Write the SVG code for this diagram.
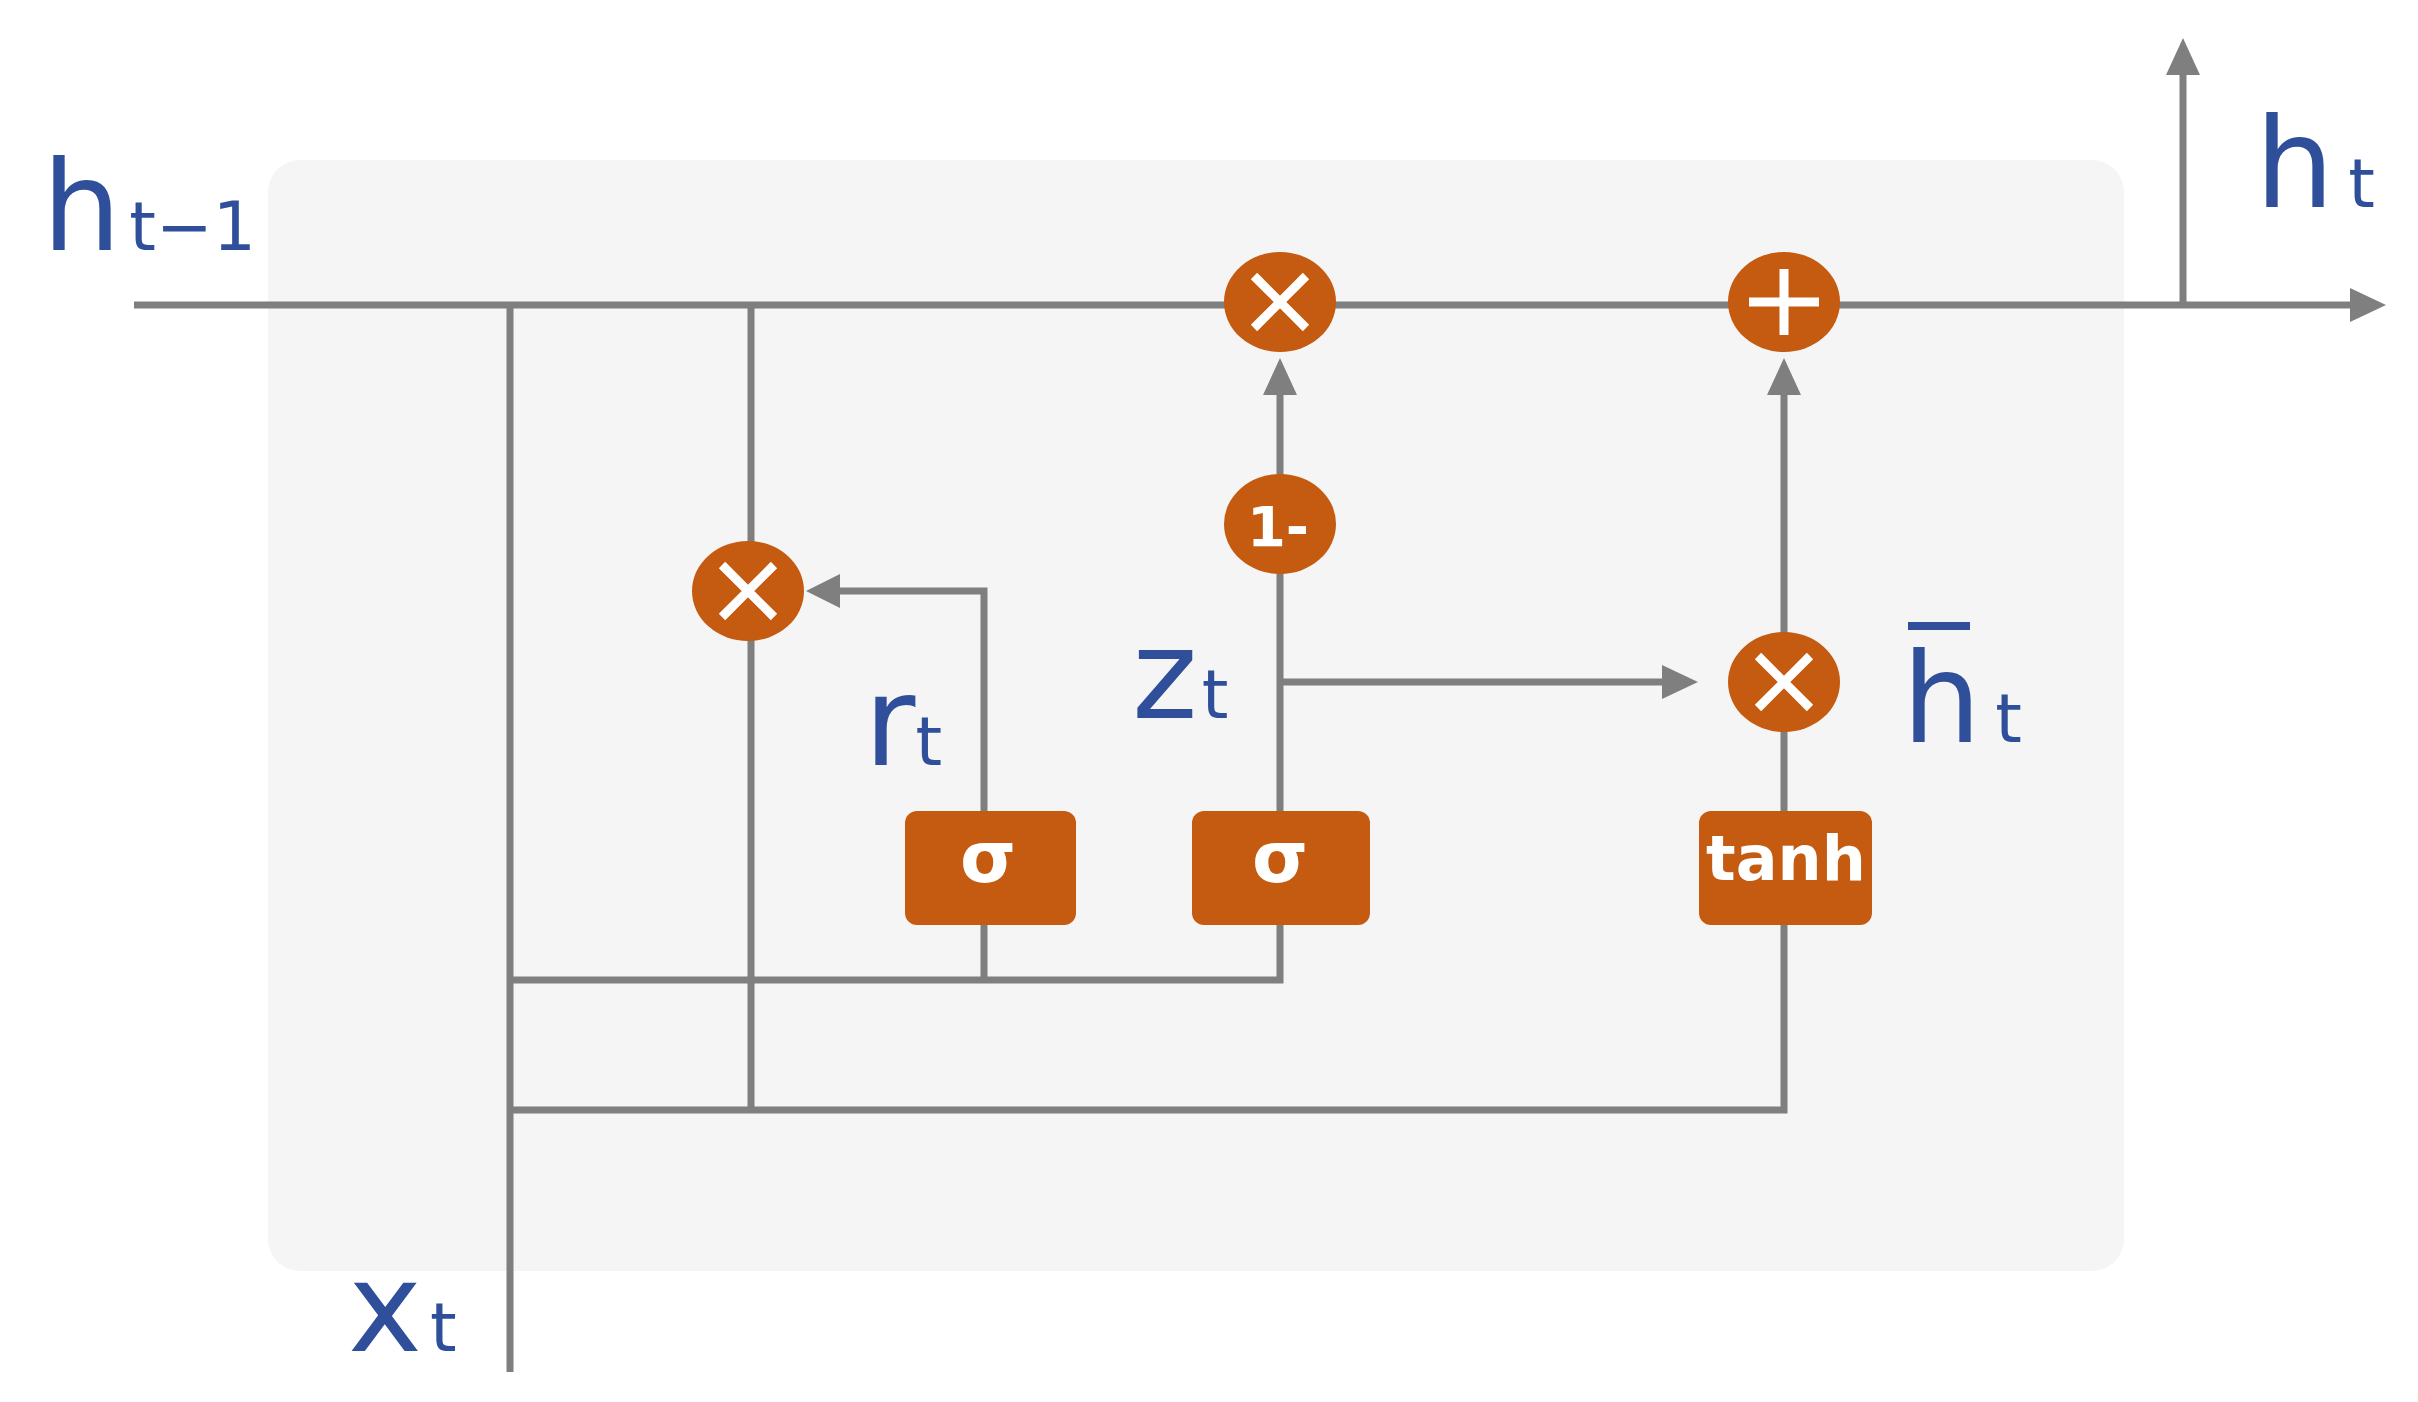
<svg xmlns="http://www.w3.org/2000/svg" width="2418" height="1402" viewBox="0 0 2418 1402">
<style>
.w{stroke:#7f7f7f;stroke-width:7;fill:none}
.op{fill:#c55a11}
.ot{fill:#fff;font-family:"DejaVu Sans",sans-serif;font-weight:bold;text-anchor:middle}
.lb{fill:#2f4f9b;font-family:"DejaVu Sans",sans-serif}
.sx{stroke:#fff;stroke-width:9;fill:none}
.ah{fill:#7f7f7f}
</style>
<rect x="268" y="160" width="1856" height="1111" rx="32" fill="#f5f5f5"/>
<g id="connectors">
<path class="w" d="M134,305H2352"/>
<path class="ah" d="M2350,288L2386,305L2350,322z"/>
<path class="w" d="M2183,305V75"/><path class="ah" d="M2166,75L2183,38L2200,75z"/>
<path class="w" d="M510,305V1372"/>
<path class="w" d="M751,305V1110"/>
<path class="w" d="M510,980H1280V925"/>
<path class="w" d="M984,980V925"/>
<path class="w" d="M510,1110H1784V925"/>
<path class="w" d="M984,811V591H840"/><path class="ah" d="M840,574L806,591L840,608z"/>
<path class="w" d="M1280,811V395"/><path class="ah" d="M1263,395L1280,358L1297,395z"/>
<path class="w" d="M1280,682H1662"/><path class="ah" d="M1662,665L1698,682L1662,699z"/>
<path class="w" d="M1784,811V395"/><path class="ah" d="M1767,395L1784,358L1801,395z"/>
</g>
<g id="mul_r"><ellipse class="op" cx="748" cy="591" rx="56" ry="50"/><path class="sx" d="M722,565L774,617M774,565L722,617"/></g>
<g id="mul_top"><ellipse class="op" cx="1280" cy="302" rx="56" ry="50"/><path class="sx" d="M1254,276L1306,328M1306,276L1254,328"/></g>
<g id="plus"><ellipse class="op" cx="1784" cy="302" rx="56" ry="50"/><path class="sx" d="M1749,302H1819M1784,269V335"/></g>
<g id="mul_h"><ellipse class="op" cx="1784" cy="682" rx="56" ry="50"/><path class="sx" d="M1758,656L1810,708M1810,656L1758,708"/></g>
<g id="one_minus"><ellipse class="op" cx="1280" cy="524" rx="56" ry="50"/><text class="ot" x="1278" y="546" font-size="56">1-</text></g>
<g id="sig_r"><rect class="op" x="905" y="811" width="171" height="114" rx="12"/><text class="ot" x="988" y="882" font-size="72" font-weight="normal">σ</text></g>
<g id="sig_z"><rect class="op" x="1192" y="811" width="178" height="114" rx="12"/><text class="ot" x="1280" y="882" font-size="72" font-weight="normal">σ</text></g>
<g id="tanh"><rect class="op" x="1699" y="811" width="173" height="114" rx="12"/><text class="ot" x="1786" y="880" font-size="62">tanh</text></g>
<g id="labels">
<text class="lb" x="42" y="250" font-size="125">h<tspan font-size="68" dx="8">t−1</tspan></text>
<text class="lb" x="2255" y="207" font-size="125">h<tspan font-size="68" dx="14">t</tspan></text>
<text class="lb" x="864" y="765" font-size="125">r<tspan font-size="68">t</tspan></text>
<text class="lb" x="1132" y="718" font-size="125">z<tspan font-size="68" dx="4">t</tspan></text>
<text class="lb" x="1902" y="742" font-size="125">h<tspan font-size="68" dx="14">t</tspan></text>
<rect x="1908" y="622" width="62" height="8" fill="#2f4f9b"/>
<text class="lb" x="348" y="1351" font-size="125">x<tspan font-size="68" dx="8">t</tspan></text>
</g>
</svg>
